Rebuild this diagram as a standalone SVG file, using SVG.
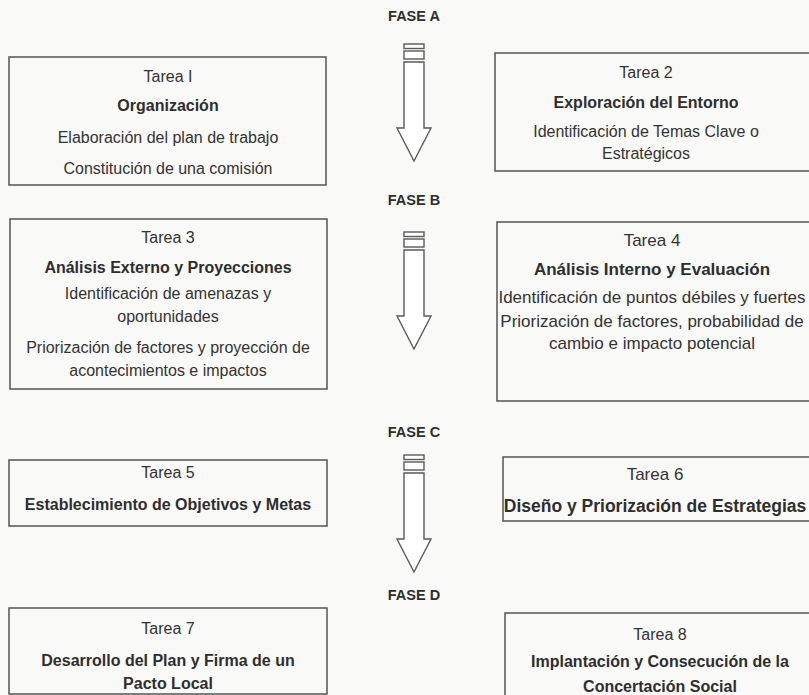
<svg xmlns="http://www.w3.org/2000/svg" width="809" height="695" viewBox="0 0 809 695">
<style>
.bg{fill:#f9f9f8}
.box{fill:none;stroke:#5e5e5e;stroke-width:1.6}
.t{font-family:"Liberation Sans",Arial,sans-serif;font-size:16px;fill:#333;text-anchor:middle}
.b{font-family:"Liberation Sans",Arial,sans-serif;font-size:16px;font-weight:bold;fill:#2e2e2e;text-anchor:middle}
.f{font-family:"Liberation Sans",Arial,sans-serif;font-size:14.5px;font-weight:bold;fill:#2e2e2e;text-anchor:middle}
.big{font-size:17px}
.bigb{font-size:17.5px}
.arr{fill:#fff;stroke:#5a5a5a;stroke-width:1.4;stroke-linejoin:miter}
</style>
<defs>
<g id="blockArrow">
<rect class="arr" x="-10" y="0" width="20" height="4.5"/>
<rect class="arr" x="-10" y="7" width="20" height="8"/>
<polygon class="arr" points="-10,18 10,18 10,84 17,84 0,117 -17,84 -10,84"/>
</g>
</defs>
<rect class="bg" x="0" y="0" width="809" height="695"/>

<g id="phases">
<text class="f" x="414" y="21">FASE A</text>
<text class="f" x="414" y="205">FASE B</text>
<text class="f" x="414" y="437">FASE C</text>
<text class="f" x="414" y="600">FASE D</text>
</g>

<g id="connectors">
<use href="#blockArrow" x="414" y="44"/>
<use href="#blockArrow" x="414" y="232"/>
<use href="#blockArrow" x="414" y="455"/>
</g>

<g id="tarea1">
<rect class="box" x="9" y="57" width="317" height="128"/>
<text class="t" x="168" y="82">Tarea I</text>
<text class="b" x="168" y="111">Organización</text>
<text class="t" x="168" y="143">Elaboración del plan de trabajo</text>
<text class="t" x="168" y="174">Constitución de una comisión</text>
</g>

<g id="tarea2">
<rect class="box" x="495" y="53" width="325" height="118"/>
<text class="t" x="646" y="78">Tarea 2</text>
<text class="b" x="646" y="108">Exploración del Entorno</text>
<text class="t" x="646" y="137">Identificación de Temas Clave o</text>
<text class="t" x="646" y="159">Estratégicos</text>
</g>

<g id="tarea3">
<rect class="box" x="10" y="219" width="317" height="170"/>
<text class="t" x="168" y="243">Tarea 3</text>
<text class="b" x="168" y="273">Análisis Externo y Proyecciones</text>
<text class="t" x="168" y="299">Identificación de amenazas y</text>
<text class="t" x="168" y="322">oportunidades</text>
<text class="t" x="168" y="353">Priorización de factores y proyección de</text>
<text class="t" x="168" y="376">acontecimientos e impactos</text>
</g>

<g id="tarea4">
<rect class="box" x="497" y="222" width="325" height="179"/>
<text class="t big" x="652" y="246">Tarea 4</text>
<text class="b big" x="652" y="275">Análisis Interno y Evaluación</text>
<text class="t big" x="652" y="303">Identificación de puntos débiles y fuertes</text>
<text class="t big" x="652" y="327">Priorización de factores, probabilidad de</text>
<text class="t big" x="652" y="349">cambio e impacto potencial</text>
</g>

<g id="tarea5">
<rect class="box" x="9" y="460" width="318" height="66"/>
<text class="t" x="168" y="478">Tarea 5</text>
<text class="b" x="168" y="510">Establecimiento de Objetivos y Metas</text>
</g>

<g id="tarea6">
<rect class="box" x="503" y="457" width="320" height="64"/>
<text class="t big" x="655" y="480">Tarea 6</text>
<text class="b bigb" x="655" y="512">Diseño y Priorización de Estrategias</text>
</g>

<g id="tarea7">
<rect class="box" x="9" y="608" width="318" height="86"/>
<text class="t" x="168" y="634">Tarea 7</text>
<text class="b" x="168" y="666">Desarrollo del Plan y Firma de un</text>
<text class="b" x="168" y="689">Pacto Local</text>
</g>

<g id="tarea8">
<rect class="box" x="505" y="613" width="320" height="100"/>
<text class="t" x="660" y="640">Tarea 8</text>
<text class="b" x="660" y="667">Implantación y Consecución de la</text>
<text class="b" x="660" y="692">Concertación Social</text>
</g>
</svg>
